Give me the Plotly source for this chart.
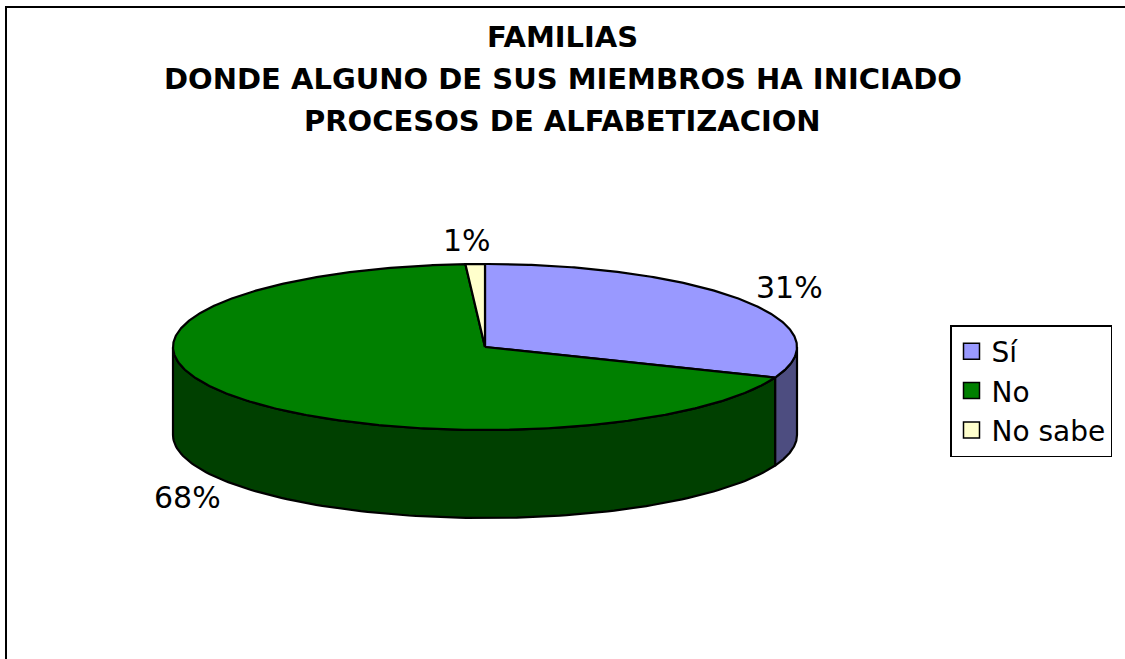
import numpy as np
import plotly.graph_objects as go

# ---- data ----
categories = ["Sí", "No", "No sabe"]
values = [31, 68, 1]
label_text = ["31%", "68%", "1%"]

# ---- styles ----
top_colors = ["#9999FF", "#008000", "#FFFFCC"]
side_colors = ["#4D4D80", "#004000", "#80806A"]
title_lines = ["FAMILIAS", "DONDE ALGUNO DE SUS MIEMBROS HA INICIADO", "PROCESOS DE ALFABETIZACION"]

W, H = 1125, 659
# pie geometry (in axis units = pixels)
CX, CY, RX, RY, DEPTH = 485, 347, 312, 83, 88
LAB_KX, LAB_KY = 1.18, 1.28

total = float(sum(values))
fracs = [v / total for v in values]
# start at 12 o'clock, go clockwise
starts, ends = [], []
acc = 90.0
for f in fracs:
    starts.append(acc)
    acc -= f * 360.0
    ends.append(acc)


def ell(theta_deg, dy=0.0):
    t = np.radians(theta_deg)
    return CX + RX * np.cos(t), CY - RY * np.sin(t) + dy


fig = go.Figure()

# side walls (front half only)
for i in range(len(values)):
    a1, a2 = ends[i], starts[i]
    for k in range(-2, 2):
        lo = max(a1, -180 + 360 * k)
        hi = min(a2, 0 + 360 * k)
        if hi - lo <= 0.01:
            continue
        th = np.linspace(lo, hi, 120)
        xt, yt = ell(th)
        xb, yb = ell(th[::-1], DEPTH)
        xs = np.concatenate([xt, xb, xt[:1]])
        ys = np.concatenate([yt, yb, yt[:1]])
        fig.add_trace(go.Scatter(x=xs, y=ys, mode="lines", fill="toself",
                                 fillcolor=side_colors[i],
                                 line=dict(color="black", width=2.2),
                                 hoverinfo="skip", showlegend=False))

# top faces
for i in range(len(values)):
    th = np.linspace(starts[i], ends[i], max(4, int(abs(starts[i] - ends[i]) * 2)))
    xa, ya = ell(th)
    xs = np.concatenate([[CX], xa, [CX]])
    ys = np.concatenate([[CY], ya, [CY]])
    fig.add_trace(go.Scatter(x=xs, y=ys, mode="lines", fill="toself",
                             fillcolor=top_colors[i],
                             line=dict(color="black", width=2.2),
                             hoverinfo="skip", showlegend=False))

# percentage labels
for i in range(len(values)):
    mid = (starts[i] + ends[i]) / 2.0
    t = np.radians(mid)
    lx = CX + RX * LAB_KX * np.cos(t)
    ly = CY - RY * LAB_KY * np.sin(t)
    if np.sin(t) < 0:
        ly += DEPTH
    if abs(np.cos(t)) < 0.1:
        lx -= 6
    fig.add_annotation(x=lx, y=ly, text=label_text[i], showarrow=False,
                       font=dict(family="DejaVu Sans", size=30, color="black"),
                       xanchor="center", yanchor="middle")

# legend entries
for i in range(len(values)):
    fig.add_trace(go.Scatter(x=[None], y=[None], mode="markers", name=categories[i],
                             marker=dict(symbol="square", size=16, color=top_colors[i],
                                         line=dict(color="black", width=1.5))))

# title (three separately spaced lines)
for j, line in enumerate(title_lines):
    fig.add_annotation(x=0.5, xref="paper", y=37 + 42 * j, yref="y", text="<b>" + line + "</b>",
                       showarrow=False, xanchor="center", yanchor="middle",
                       font=dict(family="DejaVu Sans", size=29, color="black"))

# chart frame (right and bottom edges run off the page)
fig.add_shape(type="rect", xref="paper", yref="paper", x0=6 / W, y0=1 - 7 / H, x1=1.2, y1=-0.2,
              line=dict(color="black", width=2), layer="below")

fig.update_layout(
    width=W, height=H,
    margin=dict(l=0, r=0, t=0, b=0),
    paper_bgcolor="white", plot_bgcolor="white",
    xaxis=dict(range=[0, W], visible=False, fixedrange=True),
    yaxis=dict(range=[H, 0], visible=False, fixedrange=True),
    showlegend=True,
    legend=dict(x=950 / W, y=1 - 325 / H, xanchor="left", yanchor="top",
                bgcolor="white", bordercolor="black", borderwidth=1.5,
                font=dict(family="DejaVu Sans", size=28, color="black"),
                itemwidth=30, tracegroupgap=0),
)

fig.write_html("out.html", config={"displayModeBar": False},
               post_script="document.body.style.margin='0';document.body.style.overflow='hidden';")
